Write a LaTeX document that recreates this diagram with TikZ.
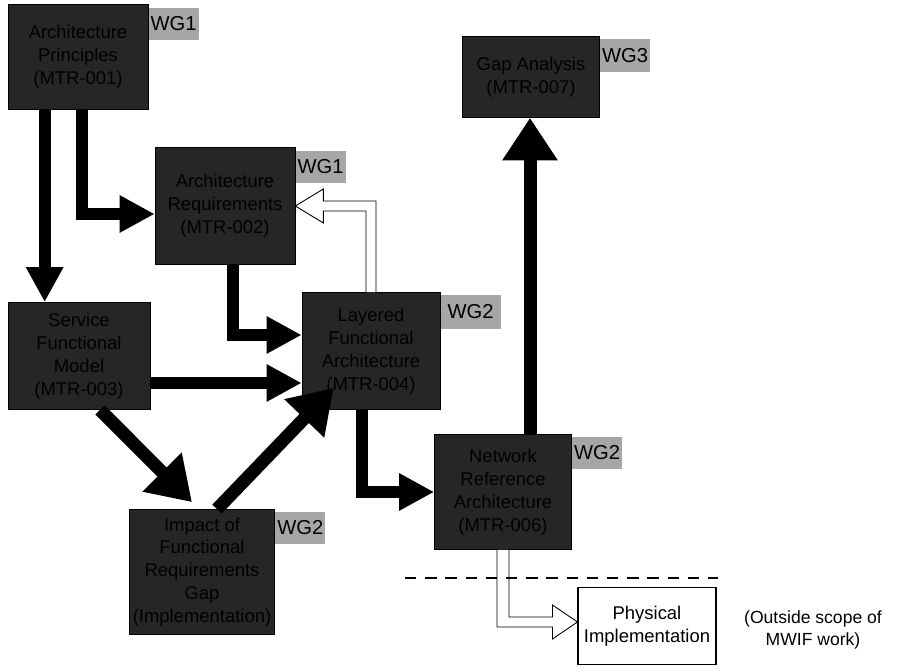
\documentclass[tikz,border=0pt]{standalone}
\usepackage{fontspec}
\setmainfont{Liberation Sans}
\usetikzlibrary{arrows.meta,calc}

\begin{document}
\begin{tikzpicture}[x=0.02cm,y=-0.02cm,font=\fontsize{10.5}{13}\selectfont,
 stage/.style={draw=black,fill=black!85,text=black,align=center,inner sep=2pt},
 wg/.style={fill=black!35,text=black,anchor=north west,minimum width=10mm,minimum height=6.5mm,inner sep=1pt,font=\fontsize{11.5}{13}\selectfont},
 flow/.style={line width=2.4mm,-{Triangle[length=7mm,width=7mm]}},
 bigflow/.style={line width=2.6mm,-{Triangle[length=8.5mm,width=10.5mm]}},
 hollow/.style={draw=black,fill=white,line width=0.5pt},
 plain/.style={draw=black,fill=white,align=center,line width=0.6pt}]
\useasboundingbox (0,0) rectangle (897,671);
\node[stage,minimum width=2.8cm,minimum height=2.1cm] (principles) at (78,57) {Architecture\\Principles\\(MTR-001)};
\node[stage,minimum width=2.8cm,minimum height=2.34cm] (requirements) at (225,206) {Architecture\\Requirements\\(MTR-002)};
\node[stage,minimum width=2.84cm,minimum height=2.14cm] (service) at (79,356) {Service\\Functional\\Model\\(MTR-003)};
\node[stage,minimum width=2.76cm,minimum height=2.34cm] (layered) at (371,351) {Layered\\Functional\\Architecture\\(MTR-004)};
\node[stage,minimum width=2.9cm,minimum height=2.5cm] (impact) at (202,572) {Impact of\\Functional\\Requirements\\Gap\\(Implementation)};
\node[stage,minimum width=2.74cm,minimum height=2.3cm] (netref) at (503,492) {Network\\Reference\\Architecture\\(MTR-006)};
\node[stage,minimum width=2.74cm,minimum height=1.62cm] (gap) at (531,77) {Gap Analysis\\(MTR-007)};
\node[plain,minimum width=2.76cm,minimum height=1.54cm] (impl) at (647,626) {Physical\\Implementation};
\node[align=center,font=\fontsize{10}{13}\selectfont] (outside) at (813,630) {(Outside scope of\\MWIF work)};
% working group tags
\node[wg] (wgA) at ($(principles.north east)+(0,3)$) {WG1};
\node[wg] (wgB) at ($(requirements.north east)+(0,3)$) {WG1};
\node[wg,minimum width=12mm,minimum height=7mm] (wgD) at ($(layered.north east)+(0,2)$) {WG2};
\node[wg] (wgE) at ($(impact.north east)+(0,2)$) {WG2};
\node[wg] (wgF) at ($(netref.north east)+(0,2)$) {WG2};
\node[wg] (wgG) at ($(gap.north east)+(0,3)$) {WG3};
% flows
\coordinate (pA1) at ($(principles.south west)+(37,0)$);
\draw[flow] (pA1) -- (pA1 |- service.north);
\coordinate (pA2) at ($(principles.south west)+(74,0)$);
\draw[flow] (pA2) |- ($(requirements.west)+(0,8)$);
\draw[flow] ($(requirements.south)+(8,0)$) |- ($(layered.west)+(0,-16)$);
\coordinate (sC) at ($(service.east)+(0,27)$);
\draw[flow] (sC) -- (sC -| layered.west);
\draw[bigflow] ($(service.south)+(21,0)$) -- ($(impact.north)+(-10,-7)$);
\draw[bigflow] ($(impact.north)+(15,0)$) -- ($(layered.south west)+(32,-22)$);
\draw[flow] ($(layered.south)+(-9,0)$) |- (netref.west);
\coordinate (nF) at ($(netref.north)+(27,0)$);
\draw[bigflow] (nF) -- (nF |- gap.south);
% feedback and outside scope
\coordinate (turnA) at (layered.north |- requirements.east);
\draw[hollow] ($(layered.north)+(-5,0)$) -- ($(turnA)+(-5,5)$) -- ($(requirements.east)+(28,5)$) -- ($(requirements.east)+(28,17)$) -- (requirements.east) -- ($(requirements.east)+(28,-17)$) -- ($(requirements.east)+(28,-5)$) -- ($(turnA)+(5,-5)$) -- ($(layered.north)+(5,0)$);
\coordinate (tipH) at ($(impl.west)+(0,-4)$);
\coordinate (turnB) at (netref.south |- tipH);
\draw[hollow] ($(netref.south)+(-6,0)$) -- ($(turnB)+(-6,5)$) -- ($(tipH)+(-25,5)$) -- ($(tipH)+(-25,17)$) -- (tipH) -- ($(tipH)+(-25,-17)$) -- ($(tipH)+(-25,-5)$) -- ($(turnB)+(6,-5)$) -- ($(netref.south)+(6,0)$);
\coordinate (cutW) at (405,578);
\coordinate (cutE) at (718,578);
\draw[line width=1.1pt,dash pattern=on 6.5pt off 5pt] (cutW) -- (cutE);
\end{tikzpicture}
\end{document}
